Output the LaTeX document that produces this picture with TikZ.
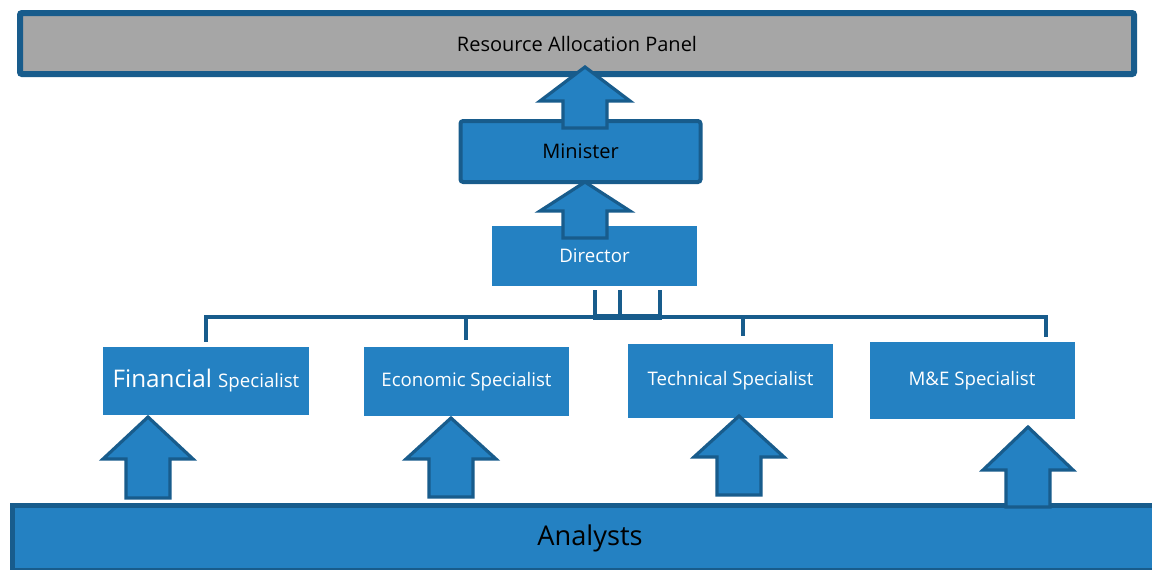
\documentclass[tikz,border=0pt]{standalone}
\usepackage{fontspec}
\setmainfont{Open Sans}
\definecolor{mainblue}{RGB}{36,129,194}
\definecolor{darkblue}{RGB}{24,92,140}
\definecolor{panelgray}{RGB}{166,166,166}
\tikzset{
  box/.style={draw=none, fill=mainblue, inner sep=0pt, text=white},
  bigbox/.style={draw=darkblue, line width=3pt, inner sep=0pt},
  link/.style={draw=darkblue, line width=3pt},
  blk/.style={draw=darkblue, fill=mainblue, line width=2.4pt, line join=miter},
}
\newcommand\blkarrow[5]{% tip x, tip y, head height, total height, name
  \draw[blk] (#1,#2) coordinate (#5) -- ++(45,#3) -- ++(-23,0) -- (#1+22,#2+#4) -- (#1-22,#2+#4) -- (#1-22,#2+#3) -- ++(-23,0) -- cycle;}
\begin{document}
\begin{tikzpicture}[x=0.75pt,y=-0.75pt]
\useasboundingbox (0,0) rectangle (1152,569);
\fill[white] (0,0) rectangle (1152,569);
% top panel
\node[bigbox, line width=4.5pt, rounded corners=1.5pt, fill=panelgray, minimum width=1114*0.75pt, minimum height=61*0.75pt, font=\fontsize{15}{18}\selectfont] (panel) at (577,43.5) {Resource Allocation Panel};
% minister
\node[bigbox, fill=mainblue, rounded corners=2pt, minimum width=240*0.75pt, minimum height=61*0.75pt, font=\fontsize{15}{18}\selectfont] (minister) at (580.5,151.5) {Minister};
% director
\node[box, minimum width=205*0.75pt, minimum height=60*0.75pt, font=\fontsize{14}{17}\selectfont] (director) at (594.5,256) {Director};
% specialists
\node[box, minimum width=206*0.75pt, minimum height=68*0.75pt] (fin) at (206,381) {\fontsize{18.2}{22}\selectfont Financial \fontsize{14}{17}\selectfont Specialist};
\node[box, minimum width=205*0.75pt, minimum height=69*0.75pt, font=\fontsize{14}{17}\selectfont] (eco) at (466.5,381.5) {Economic Specialist};
\node[box, minimum width=205*0.75pt, minimum height=74*0.75pt, font=\fontsize{14}{17}\selectfont] (tec) at (730.5,381) {Technical Specialist};
\node[box, minimum width=205*0.75pt, minimum height=77*0.75pt, font=\fontsize{14}{17}\selectfont] (mne) at (972,380.5) {M\&E Specialist};
% analysts
\node[bigbox, line width=3.75pt, fill=mainblue, minimum width=1170*0.75pt, minimum height=65*0.75pt,
  label={[font=\fontsize{20.4}{24}\selectfont, xshift=-7.5*0.75pt]center:Analysts}] (analysts) at (597.5,538) {};
% connector lines
\coordinate (busL) at (206,317);
\coordinate (busR) at (1046,317);
\draw[link] (busL|-fin.north) ++(0,-5) -- (busL) -- (busR) -- ++(0,20);
\draw[link] (466,317) -- (466,340);
\draw[link] (743,317) -- (743,336);
\foreach \xx in {595,620,660} \draw[link] (\xx,290) -- (\xx,317);
\draw[link, line width=4pt] (593,317) -- (662,317);
% block arrows
\blkarrow{585}{67}{34}{61}{a1}
\blkarrow{585}{182}{29}{56}{a2}
\blkarrow{148}{417}{42}{81}{a3}
\blkarrow{451}{418}{41}{79}{a4}
\blkarrow{739}{416}{41}{79}{a5}
\blkarrow{1028}{427}{43}{80}{a6}
\end{tikzpicture}
\end{document}
